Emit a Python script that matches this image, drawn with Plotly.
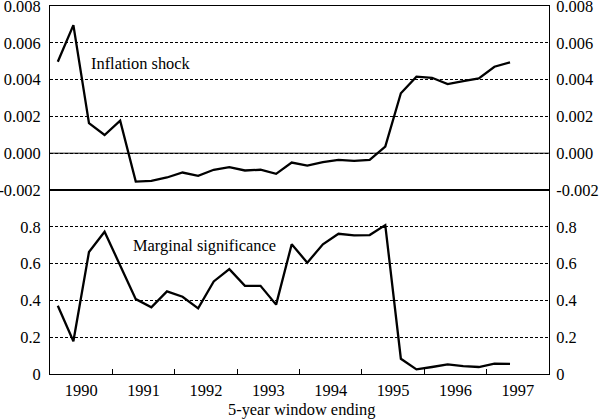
import plotly.graph_objects as go

quarters = ["1990Q1", "1990Q2", "1990Q3", "1990Q4",
            "1991Q1", "1991Q2", "1991Q3", "1991Q4",
            "1992Q1", "1992Q2", "1992Q3", "1992Q4",
            "1993Q1", "1993Q2", "1993Q3", "1993Q4",
            "1994Q1", "1994Q2", "1994Q3", "1994Q4",
            "1995Q1", "1995Q2", "1995Q3", "1995Q4",
            "1996Q1", "1996Q2", "1996Q3", "1996Q4",
            "1997Q1", "1997Q2"]

inflation_shock = [0.00497, 0.00696, 0.00163, 0.00099, 0.00177, -0.00154,
                   -0.00150, -0.00132, -0.00105, -0.00123, -0.00090, -0.00076,
                   -0.00094, -0.00090, -0.00112, -0.00051, -0.00067, -0.00049,
                   -0.00036, -0.00042, -0.00036, 0.00036, 0.00326, 0.00416,
                   0.00410, 0.00376, 0.00392, 0.00407, 0.00470, 0.00494]

marginal_significance = [0.371, 0.178, 0.663, 0.773, 0.590, 0.407,
                         0.362, 0.449, 0.420, 0.357, 0.503, 0.570,
                         0.479, 0.479, 0.377, 0.705, 0.605, 0.705,
                         0.762, 0.753, 0.755, 0.809, 0.083, 0.025,
                         0.038, 0.052, 0.043, 0.038, 0.056, 0.055]

year_labels = ["1990", "1991", "1992", "1993", "1994", "1995", "1996", "1997"]
top_ticks = [-0.002, 0.000, 0.002, 0.004, 0.006, 0.008]
top_tick_text = ["-0.002", "0.000", "0.002", "0.004", "0.006", "0.008"]
bottom_ticks = [0, 0.2, 0.4, 0.6, 0.8]
bottom_tick_text = ["0", "0.2", "0.4", "0.6", "0.8"]

# x position: middle of each quarter, in years
x = [int(q[:4]) + (int(q[5]) - 0.5) / 4 for q in quarters]
year_centers = [int(y) + 0.5 for y in year_labels]
year_bounds = [int(y) for y in year_labels[1:]]

FONT = "Liberation Serif"
FS = 16.4
grid_dash = "3px,2px"
top_range = [-0.0020001, 0.0080001]

fig = go.Figure()
line = dict(color="black", width=2.3)
fig.add_trace(go.Scatter(x=x, y=inflation_shock, mode="lines", line=line,
                         xaxis="x", yaxis="y", showlegend=False))
fig.add_trace(go.Scatter(x=x, y=marginal_significance, mode="lines", line=line,
                         xaxis="x2", yaxis="y2", showlegend=False))
# invisible traces so the right-hand axes are drawn
fig.add_trace(go.Scatter(x=x, y=inflation_shock, mode="lines",
                         line=dict(color="rgba(0,0,0,0)", width=0),
                         xaxis="x", yaxis="y3", showlegend=False, hoverinfo="skip"))
fig.add_trace(go.Scatter(x=x, y=marginal_significance, mode="lines",
                         line=dict(color="rgba(0,0,0,0)", width=0),
                         xaxis="x2", yaxis="y4", showlegend=False, hoverinfo="skip"))

xcommon = dict(range=[1990, 1998], showgrid=False, zeroline=False, automargin=False,
               showline=True, mirror=True, linecolor="black")
ycommon = dict(showline=True, linecolor="black", linewidth=1, ticks="",
               zeroline=False, automargin=False, ticklabeloverflow="allow",
               tickfont=dict(family=FONT, size=FS, color="black"))

fig.update_layout(
    template="none",
    width=600, height=419,
    margin=dict(l=50, r=51, t=6, b=45, pad=0),
    paper_bgcolor="white", plot_bgcolor="white",
    font=dict(family=FONT, size=FS, color="black"),
    xaxis=dict(**xcommon, domain=[0, 1], anchor="y", linewidth=1,
               showticklabels=False, ticks=""),
    xaxis2=dict(**xcommon, domain=[0, 1], anchor="y2", linewidth=1.3,
                tickmode="array", tickvals=year_centers, ticktext=year_labels,
                ticks="", ticklabelstandoff=1, ticklabeloverflow="allow",
                tickfont=dict(family=FONT, size=FS, color="black"),
                minor=dict(tickmode="array", tickvals=year_bounds, ticks="inside",
                           ticklen=5, tickcolor="black", tickwidth=1, showgrid=False)),
    yaxis=dict(**ycommon, domain=[0.5, 1], anchor="x", range=top_range,
               tickmode="array", tickvals=top_ticks, ticktext=top_tick_text,
               showgrid=True, gridcolor="black", gridwidth=1, griddash=grid_dash,
               side="left", ticklabelstandoff=5),
    yaxis3=dict(**ycommon, domain=[0.5, 1], anchor="x", overlaying="y",
                range=top_range, side="right",
                tickmode="array", tickvals=top_ticks, ticktext=top_tick_text,
                showgrid=False, ticklabelstandoff=3),
    yaxis2=dict(**ycommon, domain=[0, 0.5], anchor="x2", range=[0, 1],
                tickmode="array", tickvals=bottom_ticks, ticktext=bottom_tick_text,
                showgrid=True, gridcolor="black", gridwidth=1, griddash=grid_dash,
                side="left", ticklabelstandoff=5),
    yaxis4=dict(**ycommon, domain=[0, 0.5], anchor="x2", overlaying="y2",
                range=[0, 1], side="right",
                tickmode="array", tickvals=bottom_ticks, ticktext=bottom_tick_text,
                showgrid=False, ticklabelstandoff=3),
    shapes=[dict(type="line", xref="paper", yref="y", x0=0, x1=1, y0=0, y1=0,
                 line=dict(color="black", width=1))],
    annotations=[
        dict(text="Inflation shock", xref="x", yref="y", x=1990.63, y=0.0049,
             xanchor="left", yanchor="middle", showarrow=False,
             font=dict(family=FONT, size=FS, color="black")),
        dict(text="Marginal significance", xref="x2", yref="y2", x=1991.3, y=0.70,
             xanchor="left", yanchor="middle", showarrow=False,
             font=dict(family=FONT, size=FS, color="black")),
        dict(text="5-year window ending", xref="paper", yref="paper", x=0.505, y=-0.096,
             xanchor="center", yanchor="middle", showarrow=False,
             font=dict(family=FONT, size=FS, color="black")),
    ],
)

fig.write_html("out.html", config={"displayModeBar": False},
               post_script="document.body.style.margin='0';document.body.style.overflow='hidden';")
